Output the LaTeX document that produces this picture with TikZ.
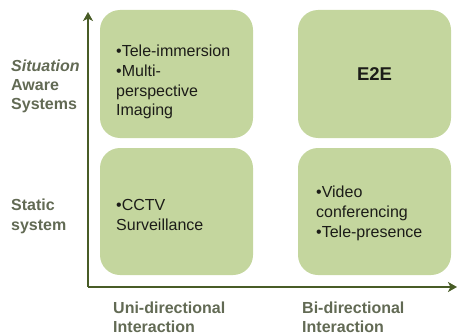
\documentclass[tikz,border=0pt]{standalone}
\usepackage{fontspec}
\setmainfont{Liberation Sans}
\usetikzlibrary{arrows.meta}
\definecolor{boxgreen}{RGB}{196,214,158}
\definecolor{axisgreen}{RGB}{72,92,38}
\definecolor{labelgray}{RGB}{98,106,84}
\definecolor{boxtext}{RGB}{28,28,24}
\tikzset{
  quadrant/.style={fill=boxgreen, draw=none, rounded corners=20pt},
  axisline/.style={draw=axisgreen, line width=2.2pt, -{Stealth[length=9pt,width=10pt,inset=2.5pt]}},
  boxline/.style={anchor=base west, inner sep=0pt, text=boxtext, font=\fontsize{16}{19}\selectfont},
  axislabel/.style={anchor=base west, inner sep=0pt, text=labelgray, font=\fontsize{16}{19}\selectfont\bfseries},
}
\begin{document}
\begin{tikzpicture}[x=1pt, y=-1pt]
  \useasboundingbox (0,0) rectangle (457,334);

  % four quadrants
  \path[quadrant] (100,10) rectangle (253,138);
  \path[quadrant] (298,10) rectangle (451,138);
  \path[quadrant] (100,148) rectangle (253,275);
  \path[quadrant] (298,148) rectangle (451,275);

  % axes
  \coordinate (origin) at (88,287);
  \coordinate (ytip) at (88,12);
  \coordinate (xtip) at (457,287);
  \draw[axisline] (origin) -- (ytip);
  \draw[axisline] (origin) -- (xtip);

  % top-left quadrant
  \node[boxline] (tl1) at (116,57) {•Tele-immersion};
  \node[boxline] (tl2) at (116,76.5) {•Multi-};
  \node[boxline] (tl3) at (116,96) {perspective};
  \node[boxline] (tl4) at (116,115.5) {Imaging};

  % top-right quadrant
  \node[inner sep=0pt, text=boxtext, font=\fontsize{18.5}{22}\selectfont\bfseries] (e2e) at (374.5,74) {E2E};

  % bottom-left quadrant
  \node[boxline] (bl1) at (116,210) {•CCTV};
  \node[boxline] (bl2) at (116,230) {Surveillance};

  % bottom-right quadrant
  \node[boxline] (br1) at (316,197) {•Video};
  \node[boxline] (br2) at (316,217) {conferencing};
  \node[boxline] (br3) at (316,237) {•Tele-presence};

  % vertical axis labels
  \node[axislabel] (sa1) at (11,72) {\itshape Situation};
  \node[axislabel] (sa2) at (11,91) {Aware};
  \node[axislabel] (sa3) at (11,110) {Systems};
  \node[axislabel] (st1) at (11,210) {Static};
  \node[axislabel] (st2) at (11,230) {system};

  % horizontal axis labels
  \node[axislabel] (uni1) at (113,313) {Uni-directional};
  \node[axislabel] (uni2) at (113,332) {Interaction};
  \node[axislabel] (bi1) at (302,313) {Bi-directional};
  \node[axislabel] (bi2) at (302,332) {Interaction};
\end{tikzpicture}
\end{document}
